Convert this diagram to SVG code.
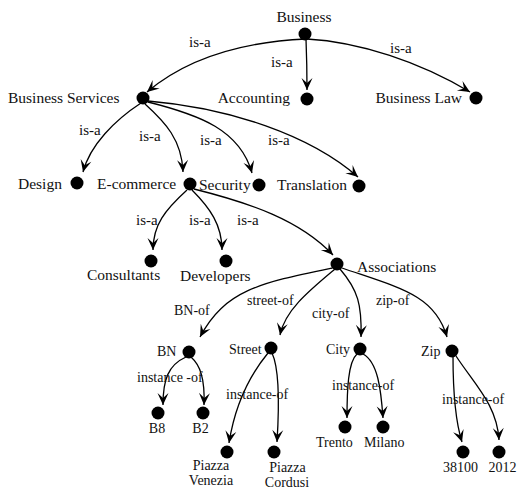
<svg xmlns="http://www.w3.org/2000/svg" width="518" height="489" viewBox="0 0 518 489">
<style>
text{font-family:"Liberation Serif","Times New Roman",serif;fill:#111}
.n{font-size:15.5px}
.e{font-size:15px}
.s{font-size:14px}
.c path{fill:none;stroke:#000;stroke-width:1.3}
circle{fill:#000}
</style>
<defs>
<marker id="ar" markerUnits="userSpaceOnUse" viewBox="-13 -6 14 12" markerWidth="14" markerHeight="12" refX="0" refY="0" orient="auto">
<path d="M0,0 L-12,-5.5 L-7,0 L-12,5.5 Z" fill="#000"/>
</marker>
</defs>
<rect width="518" height="489" fill="#fff"/>
<g class="c" id="connectors" marker-end="url(#ar)">
<path d="M306,39 C240,42 185,60 147,92"/>
<path d="M306,39 Q307,65 307,90"/>
<path d="M307,39 C360,42 420,62 470,92"/>
<path d="M141,103 C115,120 90,145 83,172"/>
<path d="M145,104 C165,122 182,140 183,172"/>
<path d="M148,102 C200,115 240,130 252,173"/>
<path d="M148,101 C230,108 310,135 358,177"/>
<path d="M187,190 C165,210 153,225 153,250"/>
<path d="M192,190 C210,208 222,225 222,250"/>
<path d="M194,189 C250,203 300,220 333,255"/>
<path d="M332,268 C260,283 225,290 200,337"/>
<path d="M335,269 C310,290 285,310 280,335"/>
<path d="M340,269 C358,290 362,305 361,337"/>
<path d="M342,268 C400,288 435,295 447,337"/>
<path d="M186,357 C168,365 163,380 163,405"/>
<path d="M191,357 C200,365 205,378 204,405"/>
<path d="M268,353 C250,375 235,405 229,443"/>
<path d="M272,353 C280,370 279,410 277,442"/>
<path d="M357,354 C348,362 347,390 347,418"/>
<path d="M363,354 C378,362 381,390 383,418"/>
<path d="M453,356 C453,390 455,420 462,442"/>
<path d="M456,356 C475,385 497,405 499,440"/>
</g>
<g id="edge-labels">
<text class="e" x="189" y="47">is-a</text>
<text class="e" x="271" y="67">is-a</text>
<text class="e" x="390" y="53">is-a</text>
<text class="e" x="79" y="135">is-a</text>
<text class="e" x="139" y="141">is-a</text>
<text class="e" x="200" y="145">is-a</text>
<text class="e" x="268" y="145">is-a</text>
<text class="e" x="136" y="225">is-a</text>
<text class="e" x="189" y="225">is-a</text>
<text class="e" x="237" y="225">is-a</text>
<text class="s" x="174" y="315">BN-of</text>
<text class="s" x="247" y="305">street-of</text>
<text class="s" x="312" y="318">city-of</text>
<text class="s" x="376" y="305">zip-of</text>
<text class="s" x="137" y="382">instance -of</text>
<text class="s" x="226" y="399">instance-of</text>
<text class="s" x="332" y="390">instance-of</text>
<text class="s" x="442" y="404">instance-of</text>
</g>
<g id="n-business"><circle cx="305" cy="34" r="6.5"/><text class="n" x="304" y="22" text-anchor="middle">Business</text></g>
<g id="n-business-services"><circle cx="143" cy="98" r="6.5"/><text class="n" x="8" y="103">Business Services</text></g>
<g id="n-accounting"><circle cx="307" cy="99" r="6.5"/><text class="n" x="290" y="103" text-anchor="end">Accounting</text></g>
<g id="n-business-law"><circle cx="476" cy="98" r="6.5"/><text class="n" x="462" y="103" text-anchor="end">Business Law</text></g>
<g id="n-design"><circle cx="77" cy="183" r="6.5"/><text class="n" x="18" y="189">Design</text></g>
<g id="n-ecommerce"><circle cx="190" cy="184" r="6.5"/><text class="n" x="97" y="189">E-commerce</text></g>
<g id="n-security"><circle cx="259" cy="185" r="6.5"/><text class="n" x="199" y="190">Security</text></g>
<g id="n-translation"><circle cx="359" cy="186" r="6.5"/><text class="n" x="277" y="190">Translation</text></g>
<g id="n-consultants"><circle cx="151" cy="261" r="6.5"/><text class="n" x="87" y="280">Consultants</text></g>
<g id="n-developers"><circle cx="226" cy="261" r="6.5"/><text class="n" x="180" y="281">Developers</text></g>
<g id="n-associations"><circle cx="337" cy="264" r="6.5"/><text class="n" x="357" y="272">Associations</text></g>
<g id="n-bn"><circle cx="189" cy="352" r="6.5"/><text class="s" x="157" y="356">BN</text></g>
<g id="n-street"><circle cx="271" cy="348" r="6.5"/><text class="s" x="229" y="354">Street</text></g>
<g id="n-city"><circle cx="360" cy="349" r="6.5"/><text class="s" x="326" y="354">City</text></g>
<g id="n-zip"><circle cx="452" cy="351" r="6.5"/><text class="s" x="421" y="356">Zip</text></g>
<g id="n-b8"><circle cx="158" cy="413" r="6.5"/><text class="s" x="157" y="433" text-anchor="middle">B8</text></g>
<g id="n-b2"><circle cx="203" cy="413" r="6.5"/><text class="s" x="200.5" y="433" text-anchor="middle">B2</text></g>
<g id="n-piazza-venezia"><circle cx="227" cy="452" r="6.5"/><text class="s" x="211" y="470" text-anchor="middle">Piazza</text><text class="s" x="211" y="485" text-anchor="middle">Venezia</text></g>
<g id="n-piazza-cordusi"><circle cx="274" cy="452" r="6.5"/><text class="s" x="287.5" y="472" text-anchor="middle">Piazza</text><text class="s" x="287" y="487" text-anchor="middle">Cordusi</text></g>
<g id="n-trento"><circle cx="345" cy="427" r="6.5"/><text class="s" x="316" y="447">Trento</text></g>
<g id="n-milano"><circle cx="383" cy="427" r="6.5"/><text class="s" x="364" y="447">Milano</text></g>
<g id="n-38100"><circle cx="463" cy="452" r="6.5"/><text class="s" x="443" y="472">38100</text></g>
<g id="n-2012"><circle cx="499" cy="452" r="6.5"/><text class="s" x="488.5" y="472">2012</text></g>
</svg>
